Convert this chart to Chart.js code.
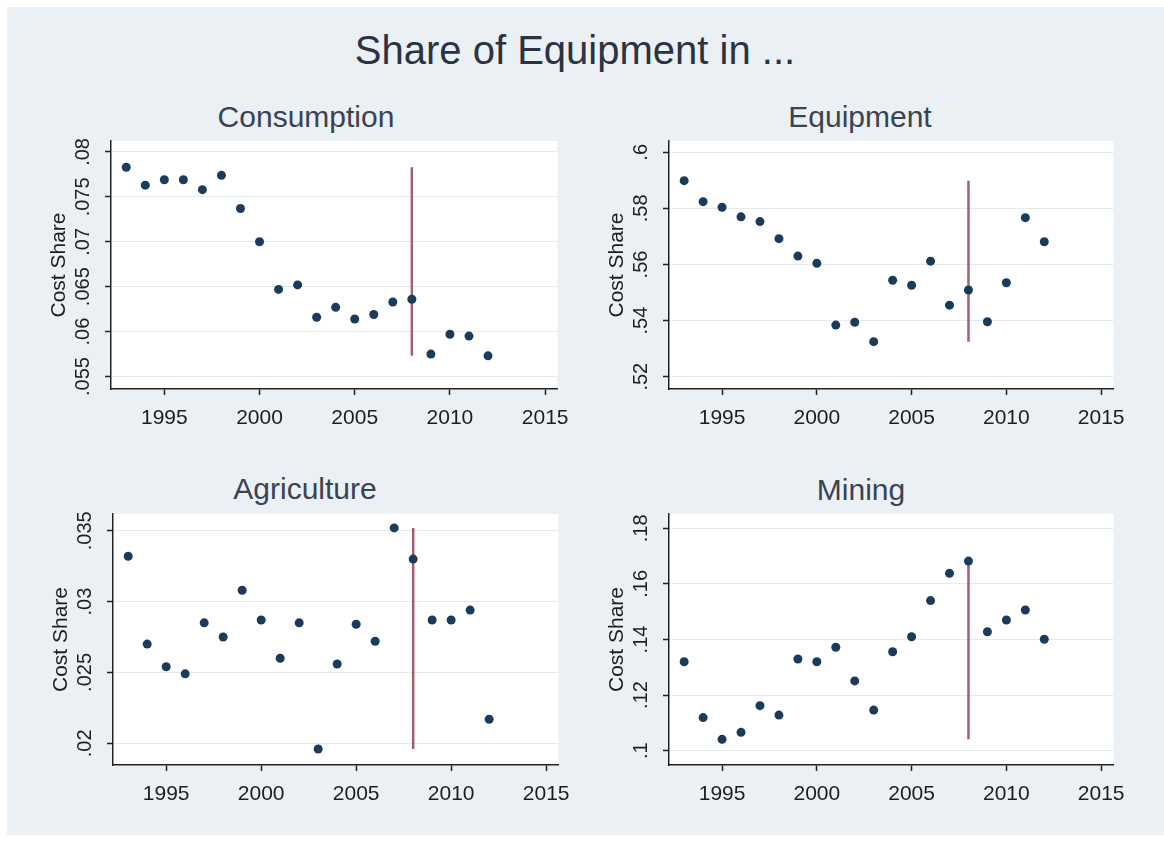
<!DOCTYPE html>
<html lang="en">
<head>
  <meta charset="UTF-8">
  <title>Share of Equipment in ...</title>
  <script src="https://cdn.jsdelivr.net/npm/chart.js"></script>
  <style>
    body {
      margin: 0;
      width: 1164px;
      height: 841px;
      background: #fff;
      font-family: "Liberation Sans", Arial, sans-serif;
      position: relative;
      overflow: hidden;
    }

    .frame {
      position: absolute;
      left: 7px;
      top: 7px;
      right: 0;
      bottom: 6px;
      background: #eaf0f3;
    }

    .title {
      position: absolute;
      left: 0;
      width: 1150px;
      top: 28px;
      text-align: center;
      font-size: 40px;
      color: #2b3242;
    }

    .sub {
      position: absolute;
      width: 400px;
      text-align: center;
      font-size: 30px;
      color: #3a4254;
    }

    .panel {
      position: absolute;
    }
  </style>
</head>
<body>
  <div class="frame"></div>
  <div class="title">Share of Equipment in ...</div>

  <script>
    // Annual cost shares, 1993-2012
    const years = [1993, 1994, 1995, 1996, 1997, 1998, 1999, 2000, 2001, 2002,
                   2003, 2004, 2005, 2006, 2007, 2008, 2009, 2010, 2011, 2012];

    const consumption = [0.0783, 0.0763, 0.0769, 0.0769, 0.0758, 0.0774, 0.0737, 0.0700, 0.0647, 0.0652,
                         0.0616, 0.0627, 0.0614, 0.0619, 0.0633, 0.0636, 0.0575, 0.0597, 0.0595, 0.0573];
    const equipment = [0.5899, 0.5824, 0.5804, 0.5770, 0.5753, 0.5692, 0.5630, 0.5604, 0.5384, 0.5394,
                       0.5325, 0.5544, 0.5526, 0.5612, 0.5455, 0.5509, 0.5396, 0.5535, 0.5767, 0.5681];
    const agriculture = [0.0332, 0.0270, 0.0254, 0.0249, 0.0285, 0.0275, 0.0308, 0.0287, 0.0260, 0.0285,
                         0.0196, 0.0256, 0.0284, 0.0272, 0.0352, 0.0330, 0.0287, 0.0287, 0.0294, 0.0217];
    const mining = [0.1320, 0.1119, 0.1041, 0.1066, 0.1162, 0.1128, 0.1330, 0.1320, 0.1372, 0.1251,
                    0.1146, 0.1356, 0.1410, 0.1540, 0.1638, 0.1682, 0.1428, 0.1470, 0.1506, 0.1401];

    // tick values
    const xTicks = [1995, 2000, 2005, 2010, 2015];
    const consumptionTicks = [0.055, 0.06, 0.065, 0.07, 0.075, 0.08];
    const equipmentTicks = [0.52, 0.54, 0.56, 0.58, 0.6];
    const agricultureTicks = [0.02, 0.025, 0.03, 0.035];
    const miningTicks = [0.1, 0.12, 0.14, 0.16, 0.18];

    const breakYear = 2008;

    // plot boxes (page pixels) and axis ranges for each panel
    const panels = [
      { name: 'Consumption', data: consumption, ticks: consumptionTicks, yMin: 0.05361, yMax: 0.08122,
        plot: { l: 111, t: 141, r: 562, b: 389 }, sub: { x: 306, y: 100 } },
      { name: 'Equipment', data: equipment, ticks: equipmentTicks, yMin: 0.51561, yMax: 0.60403,
        plot: { l: 669, t: 141, r: 1118, b: 389 }, sub: { x: 860, y: 100 } },
      { name: 'Agriculture', data: agriculture, ticks: agricultureTicks, yMin: 0.01847, yMax: 0.03618,
        plot: { l: 113, t: 514, r: 563, b: 765 }, sub: { x: 305, y: 472 } },
      { name: 'Mining', data: mining, ticks: miningTicks, yMin: 0.09486, yMax: 0.18514,
        plot: { l: 669, t: 514, r: 1118, b: 765 }, sub: { x: 861, y: 473 } }
    ];

    const Y_W = 80, X_H = 50, PAD_T = 12, PAD_R = 18;

    // Stata style: drop the leading zero
    const fmt = v => String(v).replace(/^0\./, '.');

    // white plot region
    const plotBg = {
      id: 'plotBg',
      beforeDraw(chart) {
        const { ctx, chartArea: a } = chart;
        ctx.save();
        ctx.fillStyle = '#fff';
        ctx.fillRect(a.left, a.top, a.right - a.left, a.bottom - a.top);
        ctx.restore();
      }
    };

    // vertical y tick labels
    const yLabels = {
      id: 'yLabels',
      afterDraw(chart) {
        const { ctx } = chart;
        const y = chart.scales.y;
        ctx.save();
        ctx.font = '20px "Liberation Sans", Arial, sans-serif';
        ctx.fillStyle = '#1e1e1e';
        ctx.textAlign = 'center';
        ctx.textBaseline = 'middle';
        y.ticks.forEach(t => {
          ctx.save();
          ctx.translate(y.right - 28, y.getPixelForValue(t.value));
          ctx.rotate(-Math.PI / 2);
          ctx.fillText(fmt(t.value), 0, 0);
          ctx.restore();
        });
        ctx.restore();
      }
    };

    panels.forEach(p => {
      const w = Y_W + (p.plot.r - p.plot.l) + PAD_R;
      const h = PAD_T + (p.plot.b - p.plot.t) + X_H;

      const sub = document.createElement('div');
      sub.className = 'sub';
      sub.textContent = p.name;
      sub.style.left = (p.sub.x - 200) + 'px';
      sub.style.top = p.sub.y + 'px';
      document.body.appendChild(sub);

      const box = document.createElement('div');
      box.className = 'panel';
      box.style.left = (p.plot.l - Y_W) + 'px';
      box.style.top = (p.plot.t - PAD_T) + 'px';
      box.style.width = w + 'px';
      box.style.height = h + 'px';
      const canvas = document.createElement('canvas');
      box.appendChild(canvas);
      document.body.appendChild(box);

      const lo = Math.min(...p.data), hi = Math.max(...p.data);

      new Chart(canvas, {
        type: 'scatter',
        data: {
          datasets: [
            {
              data: years.map((yr, i) => ({ x: yr, y: p.data[i] })),
              backgroundColor: '#1b3b5c',
              borderWidth: 0,
              pointRadius: 4.5,
              order: 1
            },
            {
              type: 'line',
              data: [{ x: breakYear, y: lo }, { x: breakYear, y: hi }],
              borderColor: '#a3606c',
              borderWidth: 2.5,
              pointRadius: 0,
              order: 2
            }
          ]
        },
        options: {
          responsive: true,
          maintainAspectRatio: false,
          animation: false,
          layout: { padding: { top: PAD_T, right: PAD_R, left: 0, bottom: 0 } },
          plugins: { legend: { display: false }, tooltip: { enabled: false } },
          scales: {
            x: {
              type: 'linear',
              min: 1992.2,
              max: 2015.65,
              bounds: 'data',
              afterBuildTicks: s => { s.ticks = xTicks.map(v => ({ value: v })); },
              afterFit: s => { s.height = X_H; },
              grid: { drawOnChartArea: false, tickColor: '#222', tickLength: 6, tickWidth: 1.5 },
              border: { display: true, color: '#222', width: 1.5 },
              ticks: {
                autoSkip: false,
                maxRotation: 0,
                padding: 11,
                color: '#1e1e1e',
                font: { family: '"Liberation Sans", Arial, sans-serif', size: 21 },
                callback: v => String(v)
              }
            },
            y: {
              type: 'linear',
              min: p.yMin,
              max: p.yMax,
              bounds: 'data',
              afterBuildTicks: s => { s.ticks = p.ticks.map(v => ({ value: v })); },
              afterFit: s => { s.width = Y_W; },
              grid: { color: '#e4ebef', lineWidth: 1, tickColor: '#222', tickLength: 6, tickWidth: 1.5 },
              border: { display: true, color: '#222', width: 1.5 },
              ticks: { display: false },
              title: {
                display: true,
                text: 'Cost Share',
                color: '#1e1e1e',
                padding: { top: 16, bottom: 0 },
                font: { family: '"Liberation Sans", Arial, sans-serif', size: 21 }
              }
            }
          }
        },
        plugins: [plotBg, yLabels]
      });
    });
  </script>
</body>
</html>
